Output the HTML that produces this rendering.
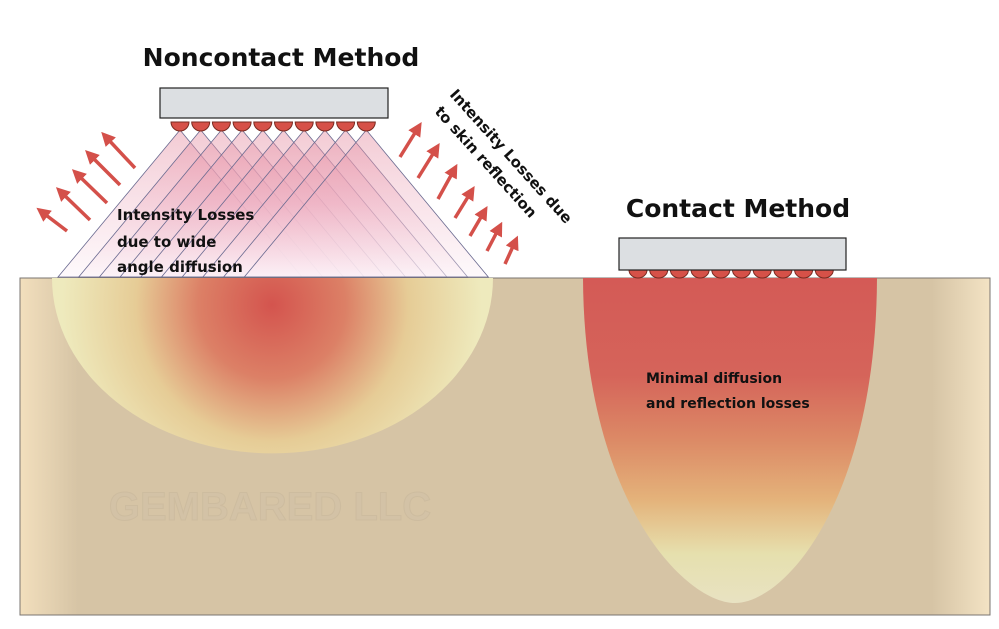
<!DOCTYPE html>
<html><head><meta charset="utf-8"><style>
html,body{margin:0;padding:0;background:#fff;}
svg{display:block;}
text{font-family:"DejaVu Sans","Liberation Sans",sans-serif;font-weight:bold;}
</style></head><body>
<svg width="999" height="629" viewBox="0 0 999 629" xmlns="http://www.w3.org/2000/svg">
<defs>
<linearGradient id="tanH" x1="0" x2="1" y1="0" y2="0">
<stop offset="0" stop-color="#f2dfbd"/><stop offset="0.06" stop-color="#d6c4a5"/><stop offset="0.94" stop-color="#d6c4a5"/><stop offset="1" stop-color="#f3e3c4"/>
</linearGradient>
<radialGradient id="hemi" cx="272" cy="305" r="210" gradientUnits="userSpaceOnUse">
<stop offset="0" stop-color="#d4544e"/><stop offset="0.35" stop-color="#dc8066"/><stop offset="0.65" stop-color="#e6cc96"/><stop offset="1" stop-color="#eeeabd"/>
</radialGradient>
<linearGradient id="para" x1="0" x2="0" y1="278" y2="603" gradientUnits="userSpaceOnUse">
<stop offset="0" stop-color="#d45a56"/><stop offset="0.3" stop-color="#d5645a"/><stop offset="0.5" stop-color="#dc8a66"/><stop offset="0.68" stop-color="#e4b27a"/><stop offset="0.85" stop-color="#e6e0ae"/><stop offset="1" stop-color="#e8e2c2"/>
</linearGradient>
<linearGradient id="tri" x1="0" x2="0" y1="130" y2="278" gradientUnits="userSpaceOnUse">
<stop offset="0" stop-color="#e48a9e" stop-opacity="0.45"/><stop offset="0.5" stop-color="#eeb0c2" stop-opacity="0.35"/><stop offset="1" stop-color="#fbf0f6" stop-opacity="0.35"/>
</linearGradient>
<marker id="ah" markerWidth="4" markerHeight="4" refX="2" refY="2" orient="auto"><path d="M0 0 L4 2 L0 4 Z" fill="#d4504a"/></marker>
</defs>
<rect x="20" y="278" width="970" height="337" fill="url(#tanH)" stroke="#7a7470" stroke-width="1"/>
<text x="270" y="520" font-size="40" fill="#d3c2a6" stroke="#cdbc9f" text-anchor="middle" style="font-family:'Liberation Sans',sans-serif">GEMBARED LLC</text>
<path d="M52 278 A220 175 0 0 0 493 278 Z" fill="url(#hemi)"/>
<path d="M583 278 C584 500 685 603 735 603 C785 603 876 500 877 278 Z" fill="url(#para)"/>
<g stroke="#6a6a90" stroke-width="0.8" fill="url(#tri)">
<polygon points="180,130 58,277 302,277"/>
<polygon points="200.7,130 78.7,277 322.7,277"/>
<polygon points="221.4,130 99.4,277 343.4,277"/>
<polygon points="242.1,130 120.1,277 364.1,277"/>
<polygon points="262.8,130 140.8,277 384.8,277"/>
<polygon points="283.5,130 161.5,277 405.5,277"/>
<polygon points="304.2,130 182.2,277 426.2,277"/>
<polygon points="324.9,130 202.9,277 446.9,277"/>
<polygon points="345.6,130 223.6,277 467.6,277"/>
<polygon points="366.3,130 244.3,277 488.3,277"/>
</g>
<g fill="#d65148" stroke="#7a2a20" stroke-width="1">
<path d="M171 122 A9 9 0 0 0 189 122 Z"/><path d="M191.7 122 A9 9 0 0 0 209.7 122 Z"/><path d="M212.4 122 A9 9 0 0 0 230.4 122 Z"/><path d="M233.1 122 A9 9 0 0 0 251.1 122 Z"/><path d="M253.8 122 A9 9 0 0 0 271.8 122 Z"/><path d="M274.5 122 A9 9 0 0 0 292.5 122 Z"/><path d="M295.2 122 A9 9 0 0 0 313.2 122 Z"/><path d="M315.9 122 A9 9 0 0 0 333.9 122 Z"/><path d="M336.6 122 A9 9 0 0 0 354.6 122 Z"/><path d="M357.3 122 A9 9 0 0 0 375.3 122 Z"/>
</g>
<rect x="160" y="88" width="228" height="30" fill="#dcdfe2" stroke="#222" stroke-width="1.2"/>
<g fill="#d65148" stroke="#7a2a20" stroke-width="1">
<path d="M629 270 A9 8 0 0 0 647 270 Z"/><path d="M649.7 270 A9 8 0 0 0 667.7 270 Z"/><path d="M670.4 270 A9 8 0 0 0 688.4 270 Z"/><path d="M691.1 270 A9 8 0 0 0 709.1 270 Z"/><path d="M711.8 270 A9 8 0 0 0 729.8 270 Z"/><path d="M732.5 270 A9 8 0 0 0 750.5 270 Z"/><path d="M753.2 270 A9 8 0 0 0 771.2 270 Z"/><path d="M773.9 270 A9 8 0 0 0 791.9 270 Z"/><path d="M794.6 270 A9 8 0 0 0 812.6 270 Z"/><path d="M815.3 270 A9 8 0 0 0 833.3 270 Z"/>
</g>
<rect x="619" y="238" width="227" height="32" fill="#dcdfe2" stroke="#222" stroke-width="1.2"/>
<g stroke="#d4504a" stroke-width="3.5" marker-end="url(#ah)">
<line x1="135" y1="168" x2="106" y2="137"/>
<line x1="120" y1="185" x2="90" y2="155"/>
<line x1="107" y1="203" x2="77" y2="174"/>
<line x1="90" y1="220" x2="61" y2="192"/>
<line x1="67" y1="231" x2="42" y2="212"/>
<line x1="400" y1="157" x2="418" y2="128"/>
<line x1="418" y1="178" x2="436" y2="149"/>
<line x1="438" y1="199" x2="454" y2="170"/>
<line x1="455" y1="218" x2="471" y2="192"/>
<line x1="470" y1="236" x2="484" y2="212"/>
<line x1="487" y1="251" x2="499" y2="228"/>
<line x1="505" y1="264" x2="515" y2="242"/>
</g>
<text x="281" y="66" font-size="25" text-anchor="middle" fill="#111">Noncontact Method</text>
<text x="738" y="217" font-size="25" text-anchor="middle" fill="#111">Contact Method</text>
<text font-size="15" fill="#111"><tspan x="117" y="220">Intensity Losses</tspan><tspan x="117" y="247">due to  wide</tspan><tspan x="117" y="272">angle diffusion</tspan></text>
<text font-size="14" fill="#111"><tspan x="646" y="383">Minimal diffusion</tspan><tspan x="646" y="408">and reflection losses</tspan></text>
<text font-size="15" fill="#111" transform="translate(449,95) rotate(48)">Intensity Losses due</text>
<text font-size="15" fill="#111" transform="translate(434,112) rotate(48)">to skin reflection</text>
</svg>
</body></html>
